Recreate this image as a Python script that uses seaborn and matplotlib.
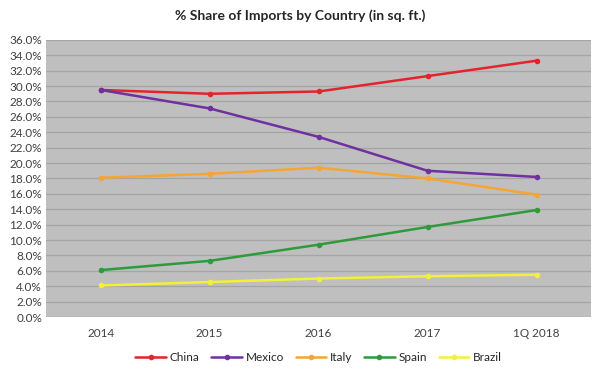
import matplotlib
matplotlib.use("Agg")
import matplotlib.pyplot as plt
from matplotlib.ticker import PercentFormatter
import numpy as np
import pandas as pd
import seaborn as sns

years = ["2014", "2015", "2016", "2017", "1Q 2018"]
china = [29.5, 29.0, 29.3, 31.3, 33.3]
mexico = [29.5, 27.1, 23.4, 19.0, 18.2]
italy = [18.1, 18.6, 19.4, 18.0, 15.9]
spain = [6.1, 7.3, 9.4, 11.7, 13.9]
brazil = [4.1, 4.55, 5.0, 5.3, 5.5]

countries = ["China", "Mexico", "Italy", "Spain", "Brazil"]
colors = ["#e3242b", "#7030a0", "#f5a533", "#2f9a3c", "#f2f03a"]

rows = []
for name, vals in zip(countries, [china, mexico, italy, spain, brazil]):
    for i, v in enumerate(vals):
        rows.append({"x": i, "year": years[i], "share": v, "country": name})
df = pd.DataFrame(rows)

sns.set_theme(style="white")
plt.rcParams["font.family"] = ["Lato", "DejaVu Sans"]

fig = plt.figure(figsize=(6, 3.73), dpi=100)
ax = fig.add_axes([0.077, 0.150, 0.908, 0.743])
ax.set_facecolor("#bfbfbf")

sns.lineplot(data=df, x="x", y="share", hue="country", hue_order=countries,
             palette=colors, marker="o", markersize=4, markeredgewidth=0,
             linewidth=1.8, ax=ax, legend=True)

ax.set_xlim(-0.5, 4.5)
ax.set_ylim(0, 36)
ax.set_yticks(np.arange(0, 37, 2))
ax.yaxis.set_major_formatter(PercentFormatter(decimals=1))
ax.set_xticks(range(len(years)))
ax.set_xticklabels(years)
ax.grid(axis="y", color="#a5a5a5", linewidth=0.9)
ax.set_axisbelow(True)
for s in ax.spines.values():
    s.set_visible(False)
ax.tick_params(axis="both", length=0, labelsize=8.5, colors="#404040")
ax.tick_params(axis="x", pad=8)
ax.tick_params(axis="y", pad=3)
ax.set_xlabel("")
ax.set_ylabel("")

fig.suptitle("% Share of Imports by Country (in sq. ft.)", x=0.5, y=0.975,
             fontsize=10, fontweight="bold", color="#262626")

handles, labels = ax.get_legend_handles_labels()
ax.legend(handles, labels, loc="upper center", bbox_to_anchor=(0.5, -0.11),
          ncol=5, frameon=False, fontsize=8.5, handlelength=2.6,
          columnspacing=1.0, handletextpad=0.3, borderaxespad=0)

fig.savefig("out.png", dpi=100)
